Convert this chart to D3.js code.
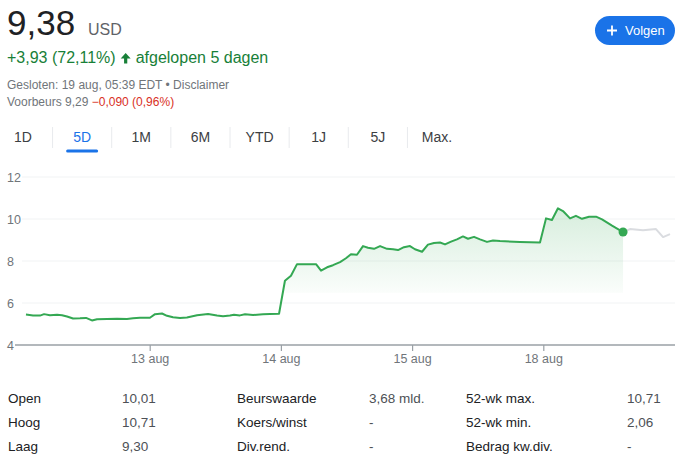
<!DOCTYPE html>
<html>
<head>
<meta charset="utf-8">
<script src="https://cdn.jsdelivr.net/npm/d3@7"></script>
<style>
  html, body { margin: 0; padding: 0; background: #fff; }
  svg { display: block; font-family: "Liberation Sans", Arial, sans-serif; }
</style>
</head>
<body>
<svg id="chart" width="700" height="474"></svg>
<script>
// ---------- DATA ----------
const price = "9,38";
const currency = "USD";
const changeText = "+3,93 (72,11%)";
const periodText = "afgelopen 5 dagen";
const closedText = "Gesloten: 19 aug, 05:39 EDT • Disclaimer";
const preLabel = "Voorbeurs 9,29 ";
const preChange = "−0,090 (0,96%)";
const tabs = ["1D", "5D", "1M", "6M", "YTD", "1J", "5J", "Max."];
const activeTab = "5D";
const buttonLabel = "Volgen";

const yTicks = [4, 6, 8, 10, 12];
const xTickLabels = ["13 aug", "14 aug", "15 aug", "18 aug"];
const xTickDays = [1, 2, 3, 4];
const prevClose = 5.45;

// trading-day timeline (0 = start of 12 aug session, 1 = 13 aug, ...)
const sessionTime = [0.053,0.107,0.160,0.191,0.236,0.290,0.328,0.366,0.412,0.465,0.511,0.556,0.595,0.671,0.747,0.823,0.869,0.922,0.998,
  1.037,1.090,1.128,1.174,1.227,1.280,1.357,1.441,1.509,1.555,1.608,1.639,1.684,1.723,1.784,1.860,1.913,1.982,
  2.027,2.073,2.119,2.180,2.264,2.302,2.348,2.393,2.447,2.492,2.530,2.576,2.622,2.660,2.706,2.752,2.805,2.851,2.889,2.934,2.980,
  3.018,3.072,3.117,3.163,3.209,3.247,3.293,3.338,3.384,3.422,3.468,3.514,3.567,3.613,3.666,3.819,3.971,
  4.017,4.062,4.108,4.146,4.200,4.245,4.291,4.345,4.398,4.444,4.520,4.604];
const sessionPrice = [5.45,5.41,5.40,5.47,5.42,5.44,5.42,5.36,5.26,5.27,5.29,5.17,5.23,5.24,5.25,5.24,5.27,5.30,5.30,
  5.47,5.50,5.39,5.32,5.29,5.31,5.42,5.48,5.40,5.37,5.40,5.44,5.41,5.46,5.43,5.46,5.48,5.49,
  7.06,7.30,7.85,7.84,7.85,7.54,7.70,7.80,7.95,8.13,8.32,8.30,8.71,8.63,8.58,8.71,8.58,8.56,8.52,8.66,8.71,
  8.56,8.44,8.78,8.86,8.88,8.79,8.92,9.03,9.17,9.06,9.15,9.03,8.91,8.98,8.95,8.91,8.88,
  10.03,9.95,10.51,10.38,10.03,10.15,10.01,10.11,10.11,9.98,9.68,9.38];
const afterTime = [4.604,4.657,4.756,4.855,4.909,4.962];
const afterPrice = [9.38,9.52,9.47,9.52,9.14,9.28];

const statLabels1 = ["Open", "Hoog", "Laag"];
const statValues1 = ["10,01", "10,71", "9,30"];
const statLabels2 = ["Beurswaarde", "Koers/winst", "Div.rend."];
const statValues2 = ["3,68 mld.", "-", "-"];
const statLabels3 = ["52-wk max.", "52-wk min.", "Bedrag kw.div."];
const statValues3 = ["10,71", "2,06", "-"];

// ---------- DRAW ----------
const svg = d3.select("#chart");
const green = "#188038";
const lineGreen = "#34a853";

// header
svg.append("text").attr("x", 7).attr("y", 35).attr("font-size", 35).attr("fill", "#202124").text(price);
svg.append("text").attr("x", 88).attr("y", 35).attr("font-size", 16).attr("fill", "#5f6368").text(currency);

const ch = svg.append("text").attr("x", 7).attr("y", 63).attr("font-size", 16).attr("fill", green).text(changeText);
const chW = ch.node().getComputedTextLength();
const ax = 7 + chW + 5;
svg.append("path")
  .attr("d", `M${ax+5},53 L${ax+10},58.5 L${ax+6.6},58.5 L${ax+6.6},63.5 L${ax+3.4},63.5 L${ax+3.4},58.5 L${ax},58.5 Z`)
  .attr("fill", green);
svg.append("text").attr("x", ax + 15).attr("y", 63).attr("font-size", 16).attr("fill", green).text(periodText);

svg.append("text").attr("x", 7).attr("y", 89).attr("font-size", 12).attr("fill", "#70757a").text(closedText);
const pre = svg.append("text").attr("x", 7).attr("y", 106).attr("font-size", 12).attr("fill", "#70757a");
pre.append("tspan").text(preLabel);
pre.append("tspan").attr("fill", "#d93025").text(preChange);

// follow button
svg.append("rect").attr("x", 595).attr("y", 16).attr("width", 80).attr("height", 29).attr("rx", 14.5).attr("fill", "#1a73e8");
svg.append("path").attr("d", "M607,30.5 H617 M612,25.5 V35.5").attr("stroke", "#fff").attr("stroke-width", 1.8);
svg.append("text").attr("x", 625).attr("y", 35).attr("font-size", 13).attr("fill", "#fff").text(buttonLabel);

// tabs
const tabCenters = d3.scalePoint().domain(tabs).range([23, 437]);
tabs.forEach((t, i) => {
  svg.append("text").attr("x", tabCenters(t)).attr("y", 142).attr("text-anchor", "middle")
    .attr("font-size", 14).attr("fill", t === activeTab ? "#1a73e8" : "#3c4043").text(t);
  if (i < tabs.length - 1) {
    const sx = (tabCenters(t) + tabCenters(tabs[i + 1])) / 2;
    svg.append("line").attr("x1", sx).attr("x2", sx).attr("y1", 127).attr("y2", 148).attr("stroke", "#e8eaed").attr("stroke-width", 1);
  }
});
svg.append("rect").attr("x", tabCenters(activeTab) - 16).attr("y", 149.5).attr("width", 32).attr("height", 3)
  .attr("rx", 1.5).attr("fill", "#1a73e8");

// chart scales
const x = d3.scaleLinear().domain([0, 5]).range([19, 675]);
const y = d3.scaleLinear().domain([4, 12]).range([345, 177]);

// gridlines + y labels
yTicks.forEach(v => {
  if (v !== 4) {
    svg.append("line").attr("x1", 22).attr("x2", 675).attr("y1", y(v)).attr("y2", y(v))
      .attr("stroke", "#f1f3f4").attr("stroke-width", 1);
  }
  svg.append("text").attr("x", 7).attr("y", y(v) + 4.5).attr("font-size", 12.5).attr("fill", "#70757a").text(v);
});

// gradient
const defs = svg.append("defs");
const grad = defs.append("linearGradient").attr("id", "g").attr("gradientUnits", "userSpaceOnUse")
  .attr("x1", 0).attr("x2", 0).attr("y1", y(10.6)).attr("y2", y(6.45));
grad.append("stop").attr("offset", 0).attr("stop-color", lineGreen).attr("stop-opacity", 0.2);
grad.append("stop").attr("offset", 0.985).attr("stop-color", lineGreen).attr("stop-opacity", 0.025);
grad.append("stop").attr("offset", 1).attr("stop-color", lineGreen).attr("stop-opacity", 0);

const session = sessionTime.map((t, i) => ({ t, v: sessionPrice[i] }));
const after = afterTime.map((t, i) => ({ t, v: afterPrice[i] }));

svg.append("path").datum(session)
  .attr("d", d3.area().x(d => x(d.t)).y0(y(prevClose)).y1(d => y(d.v)))
  .attr("fill", "url(#g)");

// axis baseline
svg.append("line").attr("x1", 15).attr("x2", 675).attr("y1", y(4)).attr("y2", y(4))
  .attr("stroke", "#9aa0a6").attr("stroke-width", 1.5);

// x ticks
xTickDays.forEach((d, i) => {
  svg.append("line").attr("x1", x(d)).attr("x2", x(d)).attr("y1", y(4)).attr("y2", y(4) + 6)
    .attr("stroke", "#9aa0a6").attr("stroke-width", 1.2);
  svg.append("text").attr("x", x(d)).attr("y", 363).attr("text-anchor", "middle")
    .attr("font-size", 12.5).attr("fill", "#70757a").text(xTickLabels[i]);
});

// lines
const line = d3.line().x(d => x(d.t)).y(d => y(d.v));
svg.append("path").datum(after).attr("d", line).attr("fill", "none")
  .attr("stroke", "#dadce0").attr("stroke-width", 2).attr("stroke-linejoin", "round");
svg.append("path").datum(session).attr("d", line).attr("fill", "none")
  .attr("stroke", lineGreen).attr("stroke-width", 2).attr("stroke-linejoin", "round");
const last = session[session.length - 1];
svg.append("circle").attr("cx", x(last.t)).attr("cy", y(last.v)).attr("r", 4.5).attr("fill", lineGreen);

// stats table
const rowsY = [403, 427, 451];
const cols = [
  { lx: 8, vx: 122, labels: statLabels1, values: statValues1 },
  { lx: 237, vx: 369, labels: statLabels2, values: statValues2 },
  { lx: 466, vx: 627, labels: statLabels3, values: statValues3 }
];
cols.forEach(c => {
  c.labels.forEach((l, i) => {
    svg.append("text").attr("x", c.lx).attr("y", rowsY[i]).attr("font-size", 13.5).attr("fill", "#202124").text(l);
    svg.append("text").attr("x", c.vx).attr("y", rowsY[i]).attr("font-size", 13.5).attr("fill", "#4d5156").text(c.values[i]);
  });
});
</script>
</body>
</html>
